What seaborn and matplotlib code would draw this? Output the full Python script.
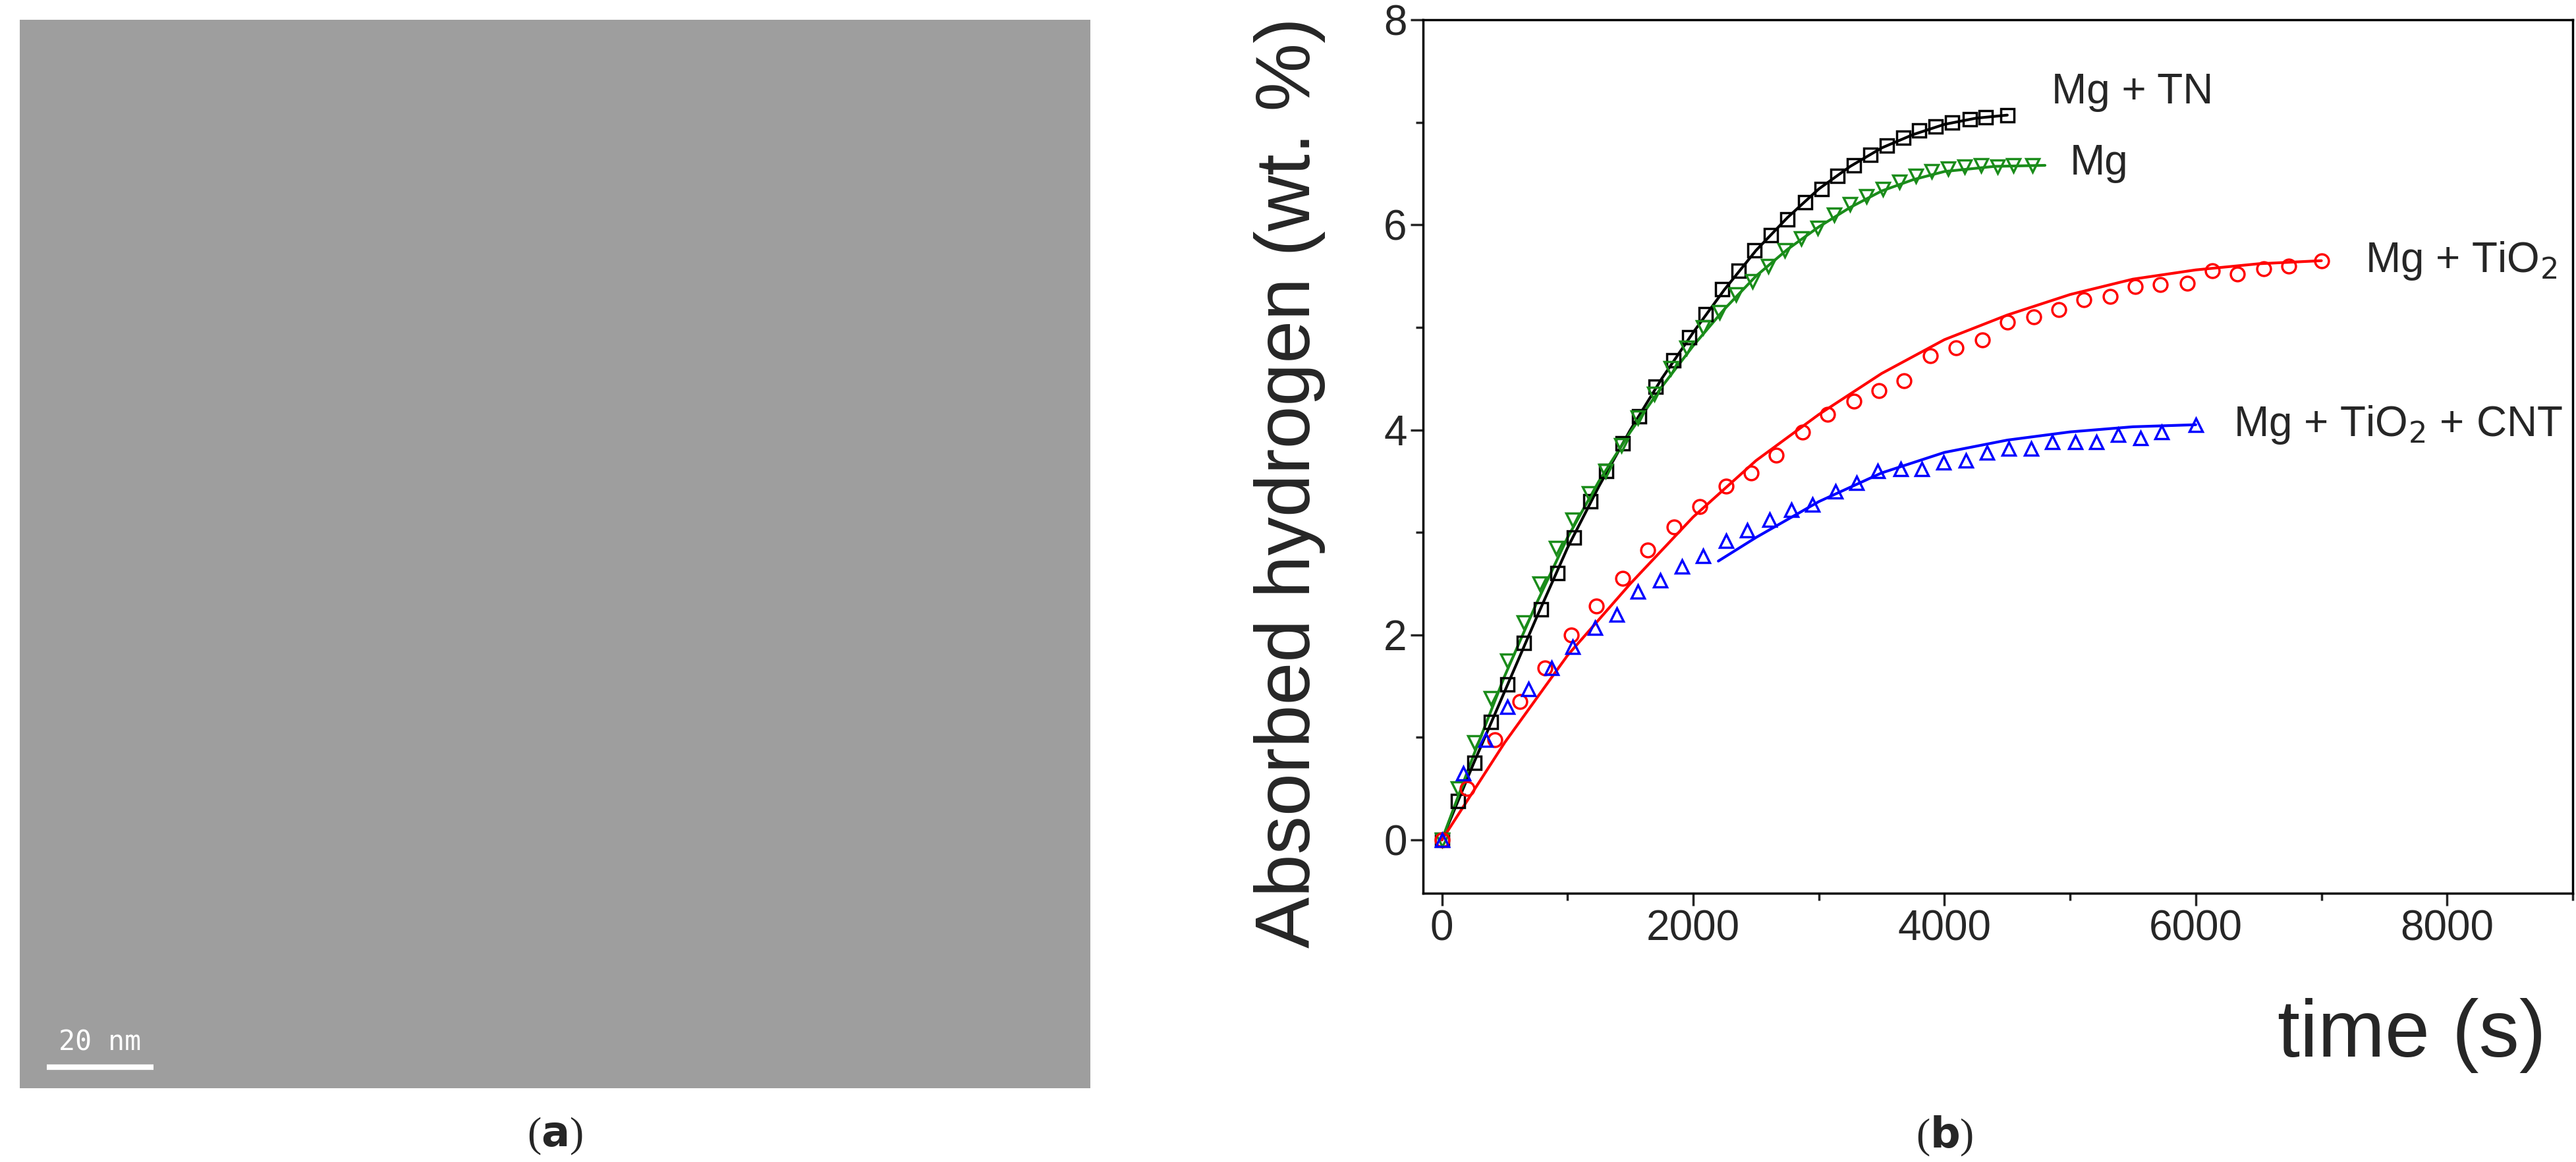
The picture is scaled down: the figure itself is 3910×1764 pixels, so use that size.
import numpy as np
import pandas as pd
import matplotlib
matplotlib.use("Agg")
import matplotlib.pyplot as plt
import seaborn as sns
from matplotlib.ticker import MultipleLocator

# measured points
tn_t = [0, 130, 260, 390, 520, 650, 790, 920, 1050, 1180, 1310, 1440, 1570, 1700, 1840, 1970, 2100, 2230, 2360, 2490,
        2620, 2750, 2890, 3020, 3150, 3280, 3410, 3540, 3670, 3800, 3930, 4060, 4200, 4330, 4500]
tn_h = [0, 0.38, 0.75, 1.15, 1.52, 1.92, 2.25, 2.6, 2.95, 3.3, 3.6, 3.87, 4.13, 4.42, 4.68, 4.9, 5.13, 5.37, 5.55, 5.75,
        5.9, 6.05, 6.22, 6.35, 6.48, 6.58, 6.68, 6.77, 6.85, 6.92, 6.96, 7.0, 7.03, 7.05, 7.07]
mg_t = [0, 130, 260, 390, 520, 650, 780, 910, 1040, 1170, 1300, 1430, 1560, 1690, 1820, 1950, 2080, 2210, 2340, 2470,
        2600, 2730, 2860, 2990, 3120, 3250, 3380, 3510, 3640, 3770, 3900, 4030, 4160, 4290, 4420, 4550, 4700]
mg_h = [0, 0.5, 0.95, 1.38, 1.75, 2.12, 2.5, 2.85, 3.12, 3.38, 3.6, 3.85, 4.12, 4.35, 4.6, 4.8, 5.0, 5.15, 5.32, 5.45,
        5.6, 5.75, 5.87, 5.97, 6.1, 6.2, 6.28, 6.35, 6.42, 6.48, 6.52, 6.55, 6.57, 6.58, 6.57, 6.58, 6.58]
ti_t = [0, 200, 420, 620, 820, 1030, 1230, 1440, 1640, 1850, 2050, 2260, 2460, 2660, 2870, 3070, 3280, 3480, 3680, 3890,
        4090, 4300, 4500, 4710, 4910, 5110, 5320, 5520, 5720, 5930, 6130, 6330, 6540, 6740, 7000]
ti_h = [0, 0.5, 0.98, 1.35, 1.68, 2.0, 2.28, 2.55, 2.83, 3.05, 3.25, 3.45, 3.58, 3.75, 3.98, 4.15, 4.28, 4.38, 4.48, 4.72,
        4.8, 4.88, 5.05, 5.1, 5.17, 5.27, 5.3, 5.4, 5.42, 5.43, 5.55, 5.52, 5.57, 5.6, 5.65]
cnt_t = [0, 170, 350, 520, 690, 870, 1040, 1220, 1390, 1560, 1740, 1910, 2080, 2260, 2430, 2610, 2780, 2950, 3130, 3300,
         3470, 3650, 3820, 3990, 4170, 4340, 4510, 4690, 4860, 5040, 5210, 5380, 5560, 5730, 6000]
cnt_h = [0, 0.65, 0.98, 1.3, 1.47, 1.68, 1.88, 2.07, 2.2, 2.42, 2.53, 2.67, 2.77, 2.92, 3.02, 3.12, 3.22, 3.27, 3.4, 3.48,
         3.6, 3.62, 3.62, 3.68, 3.7, 3.78, 3.82, 3.82, 3.88, 3.88, 3.88, 3.95, 3.92, 3.98, 4.05]

# fitted curves
tn_fit_t = [0, 250, 500, 750, 1000, 1250, 1500, 1750, 2000, 2250, 2500, 2750, 3000, 3250, 3500, 3750, 4000, 4250, 4500]
tn_fit_h = [0, 0.74, 1.45, 2.16, 2.85, 3.45, 4.0, 4.5, 4.95, 5.37, 5.75, 6.07, 6.35, 6.57, 6.75, 6.88, 6.98, 7.04, 7.07]
mg_fit_t = [0, 250, 500, 750, 1000, 1250, 1500, 1750, 2000, 2250, 2500, 2750, 3000, 3250, 3500, 3750, 4000, 4400, 4800]
mg_fit_h = [0, 0.82, 1.6, 2.3, 2.95, 3.5, 3.98, 4.42, 4.82, 5.18, 5.5, 5.76, 5.98, 6.17, 6.33, 6.44, 6.52, 6.57, 6.58]
ti_fit_t = [0, 500, 1000, 1500, 2000, 2500, 3000, 3500, 4000, 4500, 5000, 5500, 6000, 6500, 7000]
ti_fit_h = [0, 0.95, 1.8, 2.5, 3.15, 3.7, 4.15, 4.55, 4.88, 5.12, 5.32, 5.47, 5.56, 5.62, 5.65]
cnt_fit_t = [2200, 2500, 3000, 3500, 4000, 4500, 5000, 5500, 6000]
cnt_fit_h = [2.72, 2.95, 3.3, 3.58, 3.78, 3.9, 3.98, 4.03, 4.05]

sns.set_style("white")
plt.rcParams["font.family"] = ["Liberation Sans", "DejaVu Sans"]

fig = plt.figure(figsize=(39.1, 17.64), dpi=100)

# panel (a): micrograph placeholder
ax_img = fig.add_axes([30 / 3910, 1 - 1652 / 1764, 1625 / 3910, 1622 / 1764])
ax_img.imshow(np.full((100, 100), 0.62), cmap="gray", vmin=0, vmax=1, aspect="auto")
ax_img.set_xticks([])
ax_img.set_yticks([])
for s in ax_img.spines.values():
    s.set_visible(False)
ax_img.plot([2, 12], [97.5, 97.5], color="white", lw=6, solid_capstyle="butt")
ax_img.text(7, 96.5, "20 nm", color="white", fontsize=30, ha="center", va="bottom", family="DejaVu Sans Mono")
fig.text(842 / 3910, 1 - 1725 / 1764, r"($\mathbf{a}$)", fontsize=46, family="Liberation Serif", ha="center", va="center")
fig.text(2952 / 3910, 1 - 1725 / 1764, r"($\mathbf{b}$)", fontsize=46, family="Liberation Serif", ha="center", va="center")

# panel (b)
ax = fig.add_axes([2160 / 3910, 1 - 1356 / 1764, 1745 / 3910, 1326 / 1764])
mk = dict(fillstyle="none", markeredgewidth=2.5, markersize=15, linestyle="none")
sns.lineplot(x=tn_fit_t, y=tn_fit_h, color="black", lw=3, ax=ax)
sns.lineplot(x=mg_fit_t, y=mg_fit_h, color="#1a8c1a", lw=3, ax=ax)
sns.lineplot(x=ti_fit_t, y=ti_fit_h, color="red", lw=3, ax=ax)
sns.lineplot(x=cnt_fit_t, y=cnt_fit_h, color="blue", lw=3, ax=ax)
ax.plot(tn_t, tn_h, marker="s", color="black", **mk)
ax.plot(mg_t, mg_h, marker="v", color="#1a8c1a", **mk)
ax.plot(ti_t, ti_h, marker="o", color="red", **mk)
ax.plot(cnt_t, cnt_h, marker="^", color="blue", **mk)

ax.set_xlim(-150, 9000)
ax.set_ylim(-0.52, 8)
ax.xaxis.set_major_locator(MultipleLocator(2000))
ax.xaxis.set_minor_locator(MultipleLocator(1000))
ax.yaxis.set_major_locator(MultipleLocator(2))
ax.yaxis.set_minor_locator(MultipleLocator(1))
ax.tick_params(which="both", direction="out", bottom=True, left=True, width=2.5, labelsize=46)
ax.tick_params(which="major", length=14)
ax.tick_params(which="minor", length=8)
for s in ax.spines.values():
    s.set_linewidth(2.5)
    s.set_color("black")

fs = 46
ax.text(4850, 7.1, "Mg + TN", fontsize=fs, va="bottom")
ax.text(5000, 6.6, "Mg", fontsize=fs, va="center")
ax.text(7350, 5.65, "Mg + TiO$_2$", fontsize=fs, va="center")
ax.text(6300, 4.05, "Mg + TiO$_2$ + CNT", fontsize=fs, va="center")

ax.set_ylabel("Absorbed hydrogen (wt. %)", fontsize=84)
ax.yaxis.set_label_coords(-0.085, 0.47)
ax.set_xlabel("time (s)", fontsize=88)
ax.xaxis.set_label_coords(0.86, -0.12)

fig.savefig("out.png", dpi=100)
